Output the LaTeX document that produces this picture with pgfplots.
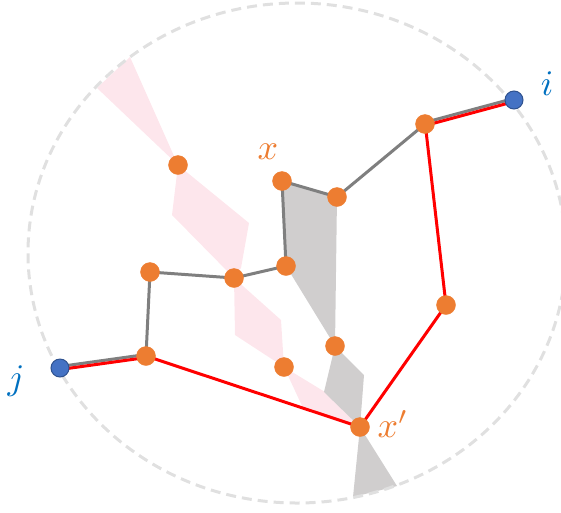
\documentclass[border=0pt]{standalone}
\usepackage{pgfplots}
\pgfplotsset{compat=1.18}

\definecolor{nodeorange}{HTML}{ED7D31}
\definecolor{nodeblue}{HTML}{4472C4}
\definecolor{nodeblueedge}{HTML}{2F528F}
\definecolor{labelblue}{HTML}{0070C0}
\definecolor{edgegrey}{HTML}{7F7F7F}
\definecolor{pinkfill}{HTML}{FDE6EC}
\definecolor{greyfill}{HTML}{D0CECE}
\definecolor{ringgrey}{HTML}{E0E0E0}

\begin{document}
\begin{tikzpicture}
\begin{axis}[
    hide axis,
    scale only axis,
    width=561pt,
    height=512pt,
    xmin=0, xmax=561,
    ymin=0, ymax=512,
    y dir=reverse,
]
\path (rel axis cs:0,0) rectangle (rel axis cs:1,1);

% pink band (behind)
\addplot[fill=pinkfill, draw=none] coordinates {(97,88) (130,57) (178,165)};
\addplot[fill=pinkfill, draw=none] coordinates {(178,165) (249,223) (241,268) (234,278) (172,215)};
\addplot[fill=pinkfill, draw=none] coordinates {(234,278) (281,320) (284,367) (235,335)};
\addplot[fill=pinkfill, draw=none] coordinates {(284,367) (325,392) (360,427) (303,408)};

% grey band
\addplot[fill=greyfill, draw=none] coordinates {(282,181) (337,197) (335,346) (286,266)};
\addplot[fill=greyfill, draw=none] coordinates {(335,346) (364,375) (360,427) (324,392)};
\addplot[fill=greyfill, draw=none] coordinates {(360,427) (397,486) (353,497)};

% dashed boundary
\draw[ringgrey, line width=3pt, dash pattern=on 10pt off 6pt]
    (axis cs:297,253) ellipse [x radius=269pt, y radius=250pt];

% grey edges
\addplot[edgegrey, line width=3pt] coordinates {
    (425,124) (337,197) (282,181) (286,266) (234,278) (150,272) (146,356)};
\addplot[edgegrey, line width=3pt] coordinates {(513.6,98.5) (424.6,122.5)};
\addplot[edgegrey, line width=3pt] coordinates {(145.8,354.5) (59.8,366.5)};

% red path
\addplot[red, line width=3pt] coordinates {
    (514.4,101.5) (425.4,125.5) (446,305) (360,427) (146,356)};
\addplot[red, line width=3pt] coordinates {(146.2,357.5) (60.2,369.5)};

% orange nodes
\addplot[only marks, mark=*, mark size=9.5pt,
    mark options={fill=nodeorange, draw=nodeorange}] coordinates {
    (425,124) (337,197) (282,181) (286,266) (234,278) (150,272) (146,356)
    (178,165) (446,305) (335,346) (284,367) (360,427)};

% blue end nodes
\addplot[only marks, mark=*, mark size=9pt,
    mark options={fill=nodeblue, draw=nodeblueedge, line width=1pt}] coordinates {
    (514,100) (60,368)};

% labels
\node[text=nodeorange, scale=3.6] at (axis cs:268,152) {$x$};
\node[text=nodeorange, scale=3.6] at (axis cs:393,424) {$x'$};
\node[text=labelblue, scale=3.6] at (axis cs:547,84) {$i$};
\node[text=labelblue, scale=3.6] at (axis cs:16,381) {$j$};
\end{axis}
\end{tikzpicture}
\end{document}
